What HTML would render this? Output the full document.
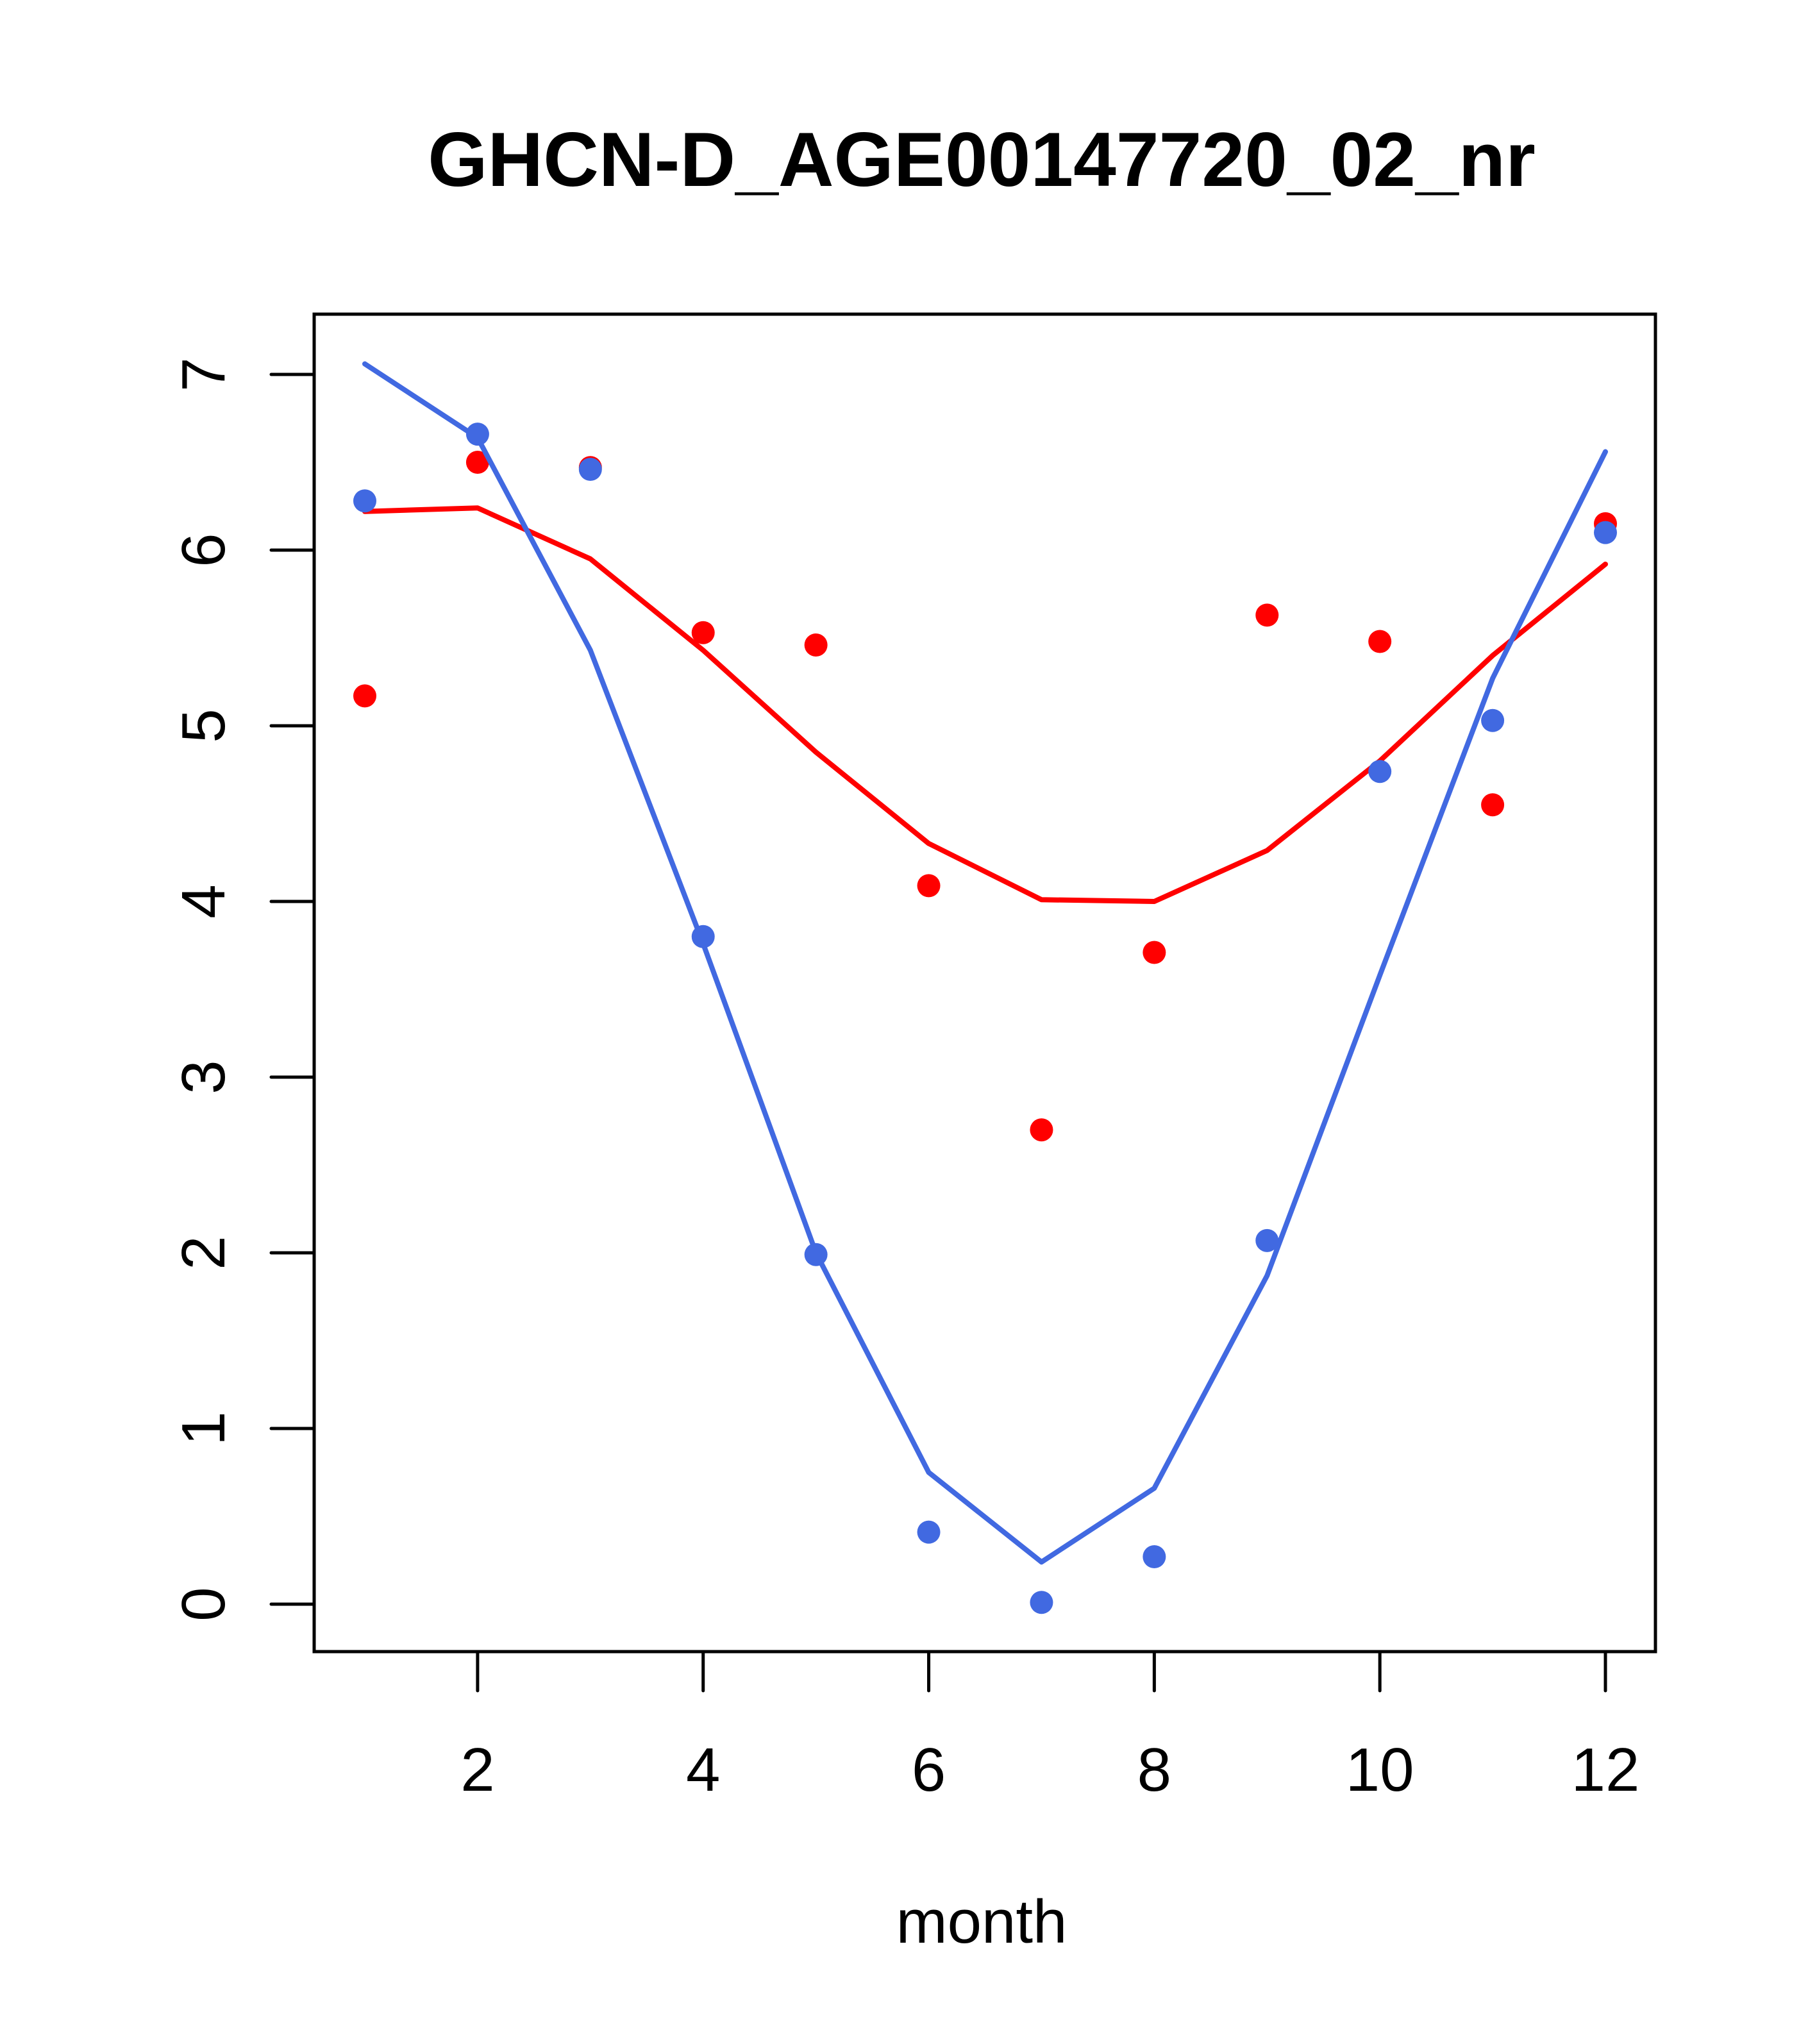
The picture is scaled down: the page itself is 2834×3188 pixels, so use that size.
<!DOCTYPE html>
<html><head><meta charset="utf-8"><style>html,body{margin:0;padding:0;background:#fff}svg{display:block}text{font-family:"Liberation Sans",sans-serif}</style></head>
<body>
<svg id="chart" width="2834" height="3188" viewBox="0 0 2834 3188" xmlns="http://www.w3.org/2000/svg">
<text x="1531" y="290" text-anchor="middle" font-size="120" font-weight="bold">GHCN-D_AGE00147720_02_nr</text>
<rect x="490" y="490" width="2092" height="2086" fill="none" stroke="#000" stroke-width="5"/>
<g id="axes"></g>
<g id="series"></g>
<text x="1531" y="3030" text-anchor="middle" font-size="96">month</text>
</svg>
<script>
const months = [1,2,3,4,5,6,7,8,9,10,11,12];
const redPoints = [5.17,6.5,6.47,5.53,5.46,4.09,2.7,3.71,5.63,5.48,4.55,6.15];
const bluePoints = [6.28,6.66,6.46,3.8,1.99,0.41,0.01,0.27,2.07,4.74,5.03,6.1];
const redLine = [6.22,6.24,5.95,5.43,4.85,4.33,4.01,4.0,4.29,4.8,5.4,5.92];
const blueLine = [7.06,6.64,5.43,3.76,2.0,0.75,0.24,0.66,1.87,3.58,5.27,6.56];
const xTicks = [2,4,6,8,10,12];
const yTicks = [0,1,2,3,4,5,6,7];

const NS = 'http://www.w3.org/2000/svg';
function xs(v){ return 569 + (v-1)*(2504-569)/11; }
function ys(v){ return 2502 - v*274; }
function mk(tag, attrs, parent){
  const e = document.createElementNS(NS, tag);
  for (const k in attrs) e.setAttribute(k, attrs[k]);
  parent.appendChild(e); return e;
}
const axes = document.getElementById('axes');
const series = document.getElementById('series');
xTicks.forEach(t=>{
  const l = mk('line',{x1:xs(t),x2:xs(t),y1:2576,y2:2637,stroke:'#000','stroke-width':5,'stroke-linecap':'round'},axes);
  
  
  const tx = mk('text',{x:xs(t),y:2793,'text-anchor':'middle','font-size':96},axes);
  tx.textContent = t;
  
  
});
yTicks.forEach(t=>{
  const l = mk('line',{x1:423,x2:490,y1:ys(t),y2:ys(t),stroke:'#000','stroke-width':5,'stroke-linecap':'round'},axes);
  
  
  const tx = mk('text',{x:0,y:0,'text-anchor':'middle','font-size':96,transform:'translate(350,'+ys(t)+') rotate(-90)'},axes);
  tx.textContent = t;
  
  
});
function line(vals,color,name){
  const p = mk('polyline',{points:vals.map((v,i)=>xs(months[i])+','+ys(v)).join(' '),fill:'none',stroke:color,'stroke-width':8,'stroke-linecap':'round','stroke-linejoin':'round'},series);
  
  
}
function pts(vals,color,name){
  vals.forEach((v,i)=>{
    const c = mk('circle',{cx:xs(months[i]),cy:ys(v),r:18,fill:color},series);
    
    
  });
}
pts(redPoints,'#ff0000','red-point');
line(redLine,'#ff0000','red-fit-line');
line(blueLine,'#4169e1','blue-fit-line');
pts(bluePoints,'#4169e1','blue-point');
</script>
</body></html>
